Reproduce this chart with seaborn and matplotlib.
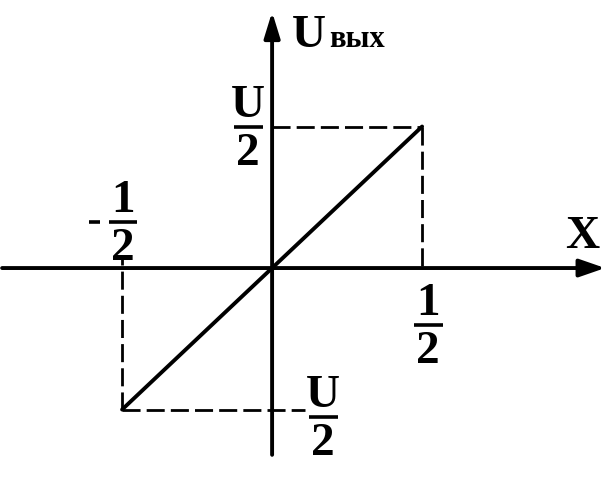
import numpy as np
import pandas as pd
import matplotlib.pyplot as plt
import seaborn as sns

# transfer characteristic: X from -1/2 to 1/2, Uвых from -U/2 to U/2 (U = 1)
x_vals = [-0.5, 0.0, 0.5]
u_vals = [-0.5, 0.0, 0.5]
x_ticks = [-0.5, 0.5]
u_ticks = [-0.5, 0.5]

df = pd.DataFrame({"x": x_vals, "u": u_vals})

sns.set_theme(style="white")
plt.rcParams["font.family"] = ["Liberation Serif", "DejaVu Serif"]
plt.rcParams["font.weight"] = "bold"
plt.rcParams["text.color"] = "black"

fig = plt.figure(figsize=(6.06, 4.84), dpi=100)
ax = fig.add_axes([0, 0, 1, 1])
ax.set_xlim(-0.907, 1.113)
ax.set_ylim(-0.763, 0.947)
ax.set_axis_off()

# axes with arrows
ax.annotate("", xy=(1.11, 0), xytext=(-0.9, 0),
            arrowprops=dict(arrowstyle="-|>,head_length=1.3,head_width=0.45",
                            color="black", lw=2.8, shrinkA=0, shrinkB=0))
ax.annotate("", xy=(0, 0.905), xytext=(0, -0.66),
            arrowprops=dict(arrowstyle="-|>,head_length=1.3,head_width=0.4",
                            color="black", lw=2.8, shrinkA=0, shrinkB=0))

# characteristic
sns.lineplot(data=df, x="x", y="u", ax=ax, color="black", lw=2.8)

# dashed projections
dash = dict(color="black", lw=2.0, ls=(0, (6.5, 2.2)))
ax.plot([0, x_ticks[1]], [u_ticks[1], u_ticks[1]], **dash)
ax.plot([x_ticks[1], x_ticks[1]], [u_ticks[1], 0], **dash)
ax.plot([x_ticks[0], 0.11], [u_ticks[0], u_ticks[0]], **dash)
ax.plot([x_ticks[0], x_ticks[0]], [u_ticks[0], 0.035], **dash)

fs = 34


def frac(xc, yb, num, den):
    ax.plot([xc - 0.048, xc + 0.048], [yb, yb], color="black", lw=2.6,
            solid_capstyle="butt")
    ax.text(xc, yb + 0.035, num, ha="center", va="baseline", fontsize=fs,
            fontweight="bold", color="black")
    ax.text(xc, yb - 0.022, den, ha="center", va="top", fontsize=fs,
            fontweight="bold", color="black")


frac(-0.08, u_ticks[1], "U", "2")
frac(0.17, -0.527, "U", "2")
frac(-0.497, 0.163, "1", "2")
frac(0.52, -0.20, "1", "2")
ax.plot([-0.61, -0.575], [0.163, 0.163], color="black", lw=2.6,
        solid_capstyle="butt")

# axis labels
ax.text(0.065, 0.78, "U", ha="left", va="baseline", fontsize=fs,
        fontweight="bold", color="black")
ax.text(0.19, 0.78, "вых", ha="left", va="baseline", fontsize=22,
        fontweight="bold", color="black")
ax.text(1.033, 0.07, "X", ha="center", va="baseline", fontsize=fs,
        fontweight="bold", color="black")

fig.savefig("out.png", dpi=100, facecolor="white")
